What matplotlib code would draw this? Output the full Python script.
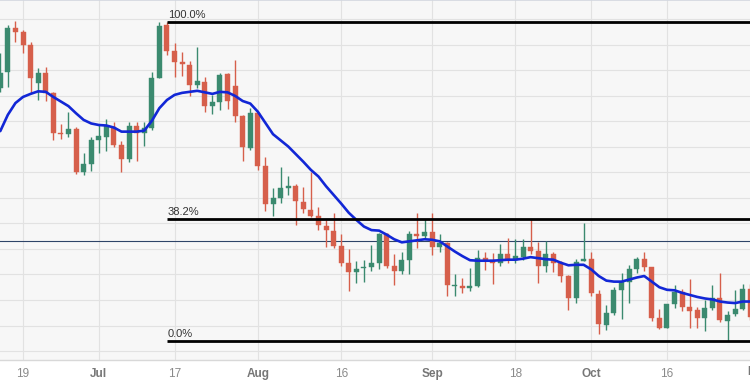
import matplotlib
matplotlib.use("Agg")
import matplotlib.pyplot as plt
import matplotlib.transforms as mtransforms
import numpy as np

plt.rcParams['font.family'] = ['Liberation Sans', 'DejaVu Sans']

# AUD/USD daily candles (Jun 14 2023 .. Nov 1 2023, weekdays)
opens = [0.6766, 0.6796, 0.6884, 0.6875, 0.6850, 0.6775, 0.6795, 0.6755, 0.6678, 0.6675,
         0.6686, 0.6601, 0.6616, 0.6664, 0.6670, 0.6690, 0.6654, 0.6626, 0.6691, 0.6677,
         0.6687, 0.6786, 0.6889, 0.6838, 0.6816, 0.6811, 0.6772, 0.6777, 0.6731, 0.6739,
         0.6792, 0.6769, 0.6710, 0.6648, 0.6716, 0.6613, 0.6538, 0.6549, 0.6569, 0.6573,
         0.6543, 0.6527, 0.6515, 0.6496, 0.6486, 0.6455, 0.6423, 0.6404, 0.6412, 0.6415,
         0.6423, 0.6480, 0.6417, 0.6406, 0.6428, 0.6480, 0.6476, 0.6484, 0.6453, 0.6461,
         0.6377, 0.6378, 0.6374, 0.6377, 0.6433, 0.6428, 0.6422, 0.6440, 0.6428, 0.6435,
         0.6453, 0.6447, 0.6417, 0.6440, 0.6423, 0.6397, 0.6353, 0.6427, 0.6431, 0.6362,
         0.6301, 0.6325, 0.6370, 0.6386, 0.6410, 0.6431, 0.6414, 0.6314, 0.6296, 0.6342,
         0.6365, 0.6337, 0.6330, 0.6314, 0.6335, 0.6353, 0.6308, 0.6323, 0.6333, 0.6372]
highs = [0.6835, 0.6889, 0.6897, 0.6879, 0.6856, 0.6805, 0.6807, 0.6758, 0.6695, 0.6718,
         0.6689, 0.6638, 0.6670, 0.6693, 0.6705, 0.6699, 0.6662, 0.6699, 0.6699, 0.6699,
         0.6797, 0.6894, 0.6895, 0.6853, 0.6837, 0.6818, 0.6846, 0.6787, 0.6752, 0.6795,
         0.6794, 0.6820, 0.6713, 0.6727, 0.6718, 0.6630, 0.6569, 0.6611, 0.6593, 0.6577,
         0.6571, 0.6600, 0.6533, 0.6507, 0.6521, 0.6480, 0.6449, 0.6427, 0.6428, 0.6458,
         0.6482, 0.6482, 0.6440, 0.6445, 0.6486, 0.6521, 0.6508, 0.6521, 0.6480, 0.6464,
         0.6401, 0.6394, 0.6412, 0.6448, 0.6444, 0.6443, 0.6460, 0.6472, 0.6470, 0.6470,
         0.6508, 0.6463, 0.6465, 0.6445, 0.6427, 0.6399, 0.6431, 0.6500, 0.6445, 0.6369,
         0.6340, 0.6376, 0.6402, 0.6419, 0.6435, 0.6445, 0.6415, 0.6333, 0.6343, 0.6379,
         0.6371, 0.6392, 0.6337, 0.6350, 0.6379, 0.6402, 0.6329, 0.6369, 0.6382, 0.6381]
lows = [0.6757, 0.6767, 0.6856, 0.6834, 0.6756, 0.6742, 0.6740, 0.6664, 0.6666, 0.6669,
        0.6597, 0.6595, 0.6603, 0.6638, 0.6642, 0.6650, 0.6601, 0.6620, 0.6622, 0.6652,
        0.6683, 0.6785, 0.6830, 0.6787, 0.6789, 0.6750, 0.6765, 0.6718, 0.6715, 0.6722,
        0.6724, 0.6699, 0.6622, 0.6644, 0.6604, 0.6525, 0.6515, 0.6540, 0.6556, 0.6497,
        0.6520, 0.6512, 0.6487, 0.6454, 0.6451, 0.6417, 0.6367, 0.6383, 0.6386, 0.6406,
        0.6411, 0.6412, 0.6379, 0.6401, 0.6401, 0.6451, 0.6469, 0.6438, 0.6445, 0.6357,
        0.6357, 0.6364, 0.6367, 0.6375, 0.6408, 0.6381, 0.6416, 0.6422, 0.6423, 0.6429,
        0.6441, 0.6384, 0.6404, 0.6404, 0.6386, 0.6331, 0.6345, 0.6426, 0.6358, 0.6283,
        0.6291, 0.6321, 0.6313, 0.6344, 0.6402, 0.6406, 0.6308, 0.6294, 0.6295, 0.6335,
        0.6329, 0.6296, 0.6296, 0.6290, 0.6330, 0.6306, 0.6270, 0.6319, 0.6330, 0.6311]
closes = [0.6794, 0.6884, 0.6875, 0.6850, 0.6785, 0.6795, 0.6756, 0.6678, 0.6675, 0.6686,
          0.6601, 0.6616, 0.6664, 0.6671, 0.6692, 0.6654, 0.6626, 0.6691, 0.6677, 0.6688,
          0.6785, 0.6888, 0.6838, 0.6816, 0.6812, 0.6771, 0.6779, 0.6731, 0.6738, 0.6791,
          0.6740, 0.6710, 0.6650, 0.6716, 0.6613, 0.6539, 0.6549, 0.6569, 0.6573, 0.6545,
          0.6528, 0.6515, 0.6497, 0.6487, 0.6455, 0.6423, 0.6404, 0.6410, 0.6414, 0.6423,
          0.6480, 0.6417, 0.6406, 0.6428, 0.6480, 0.6476, 0.6484, 0.6453, 0.6461, 0.6379,
          0.6379, 0.6374, 0.6377, 0.6433, 0.6428, 0.6422, 0.6440, 0.6428, 0.6436, 0.6453,
          0.6447, 0.6417, 0.6440, 0.6423, 0.6397, 0.6353, 0.6425, 0.6431, 0.6363, 0.6303,
          0.6324, 0.6370, 0.6386, 0.6410, 0.6431, 0.6414, 0.6314, 0.6296, 0.6342, 0.6365,
          0.6337, 0.6329, 0.6314, 0.6335, 0.6353, 0.6310, 0.6321, 0.6333, 0.6372, 0.6317]
# moving average as drawn on the chart
ma = [0.6681, 0.6713, 0.6736, 0.6748, 0.6754, 0.6759, 0.6758, 0.6748, 0.6739, 0.6730,
      0.6716, 0.6703, 0.6696, 0.6693, 0.6692, 0.6688, 0.6680, 0.6680, 0.6680, 0.6682,
      0.6701, 0.6726, 0.6742, 0.6752, 0.6756, 0.6758, 0.6760, 0.6757, 0.6754, 0.6758,
      0.6757, 0.6750, 0.6740, 0.6735, 0.6719, 0.6697, 0.6675, 0.6663, 0.6651, 0.6636,
      0.6621, 0.6605, 0.6592, 0.6573, 0.6556, 0.6539, 0.6521, 0.6507, 0.6494, 0.6487,
      0.6486, 0.6478, 0.6469, 0.6463, 0.6465, 0.6467, 0.6469, 0.6468, 0.6465, 0.6455,
      0.6445, 0.6436, 0.6428, 0.6427, 0.6427, 0.6427, 0.6428, 0.6429, 0.6429, 0.6431,
      0.6434, 0.6432, 0.6430, 0.6429, 0.6423, 0.6418, 0.6419, 0.6419, 0.6410, 0.6397,
      0.6388, 0.6386, 0.6386, 0.6390, 0.6394, 0.6397, 0.6386, 0.6375, 0.6370, 0.6369,
      0.6364, 0.6360, 0.6356, 0.6353, 0.6351, 0.6347, 0.6345, 0.6344, 0.6347, 0.6347]

tick_pos = [3, 13, 23, 34, 45, 57, 68, 78, 88]
tick_labels = ["19", "Jul", "17", "Aug", "16", "Sep", "18", "Oct", "16"]
month_labels = {"Jul", "Aug", "Sep", "Oct", "Nov"}
extra_label = (100, "Nov")

fib_start, fib_end = 22, 96          # swing high candle, swing low candle
fib_levels = [1.0, 0.382, 0.0]
fib_texts = ["100.0%", "38.2%", "0.0%"]
price_line = 0.6465

GREEN = "#3b8a6f"
RED = "#d65f4b"

fig = plt.figure(figsize=(7.5, 3.86), dpi=100, facecolor="white")
ax = fig.add_axes([0, 26 / 386, 1, 360 / 386])
ax.set_facecolor("#f7f7f7")

n = len(opens)
x = np.arange(n)
o = np.array(opens); h = np.array(highs); l = np.array(lows); c = np.array(closes)
up = c >= o
colors = np.where(up, GREEN, RED)

ax.vlines(x, l, h, colors=colors, linewidth=1.0, zorder=3)
bottoms = np.minimum(o, c)
heights = np.maximum(np.abs(c - o), 0.00008)
ax.bar(x, heights, bottom=bottoms, width=0.66, color=colors, edgecolor=colors,
       linewidth=0.3, zorder=4)

ax.plot(x, ma, color="#1227d6", linewidth=1.9, zorder=5, solid_capstyle="round")

ax.axhline(price_line, color="#2e4468", linewidth=0.8, zorder=2)

hi = highs[fib_start]
lo = lows[fib_end]
for lev, txt in zip(fib_levels, fib_texts):
    yv = lo + lev * (hi - lo)
    ax.plot([fib_start - 0.05, 120], [yv, yv], color="black", linewidth=2.0,
            zorder=6, solid_capstyle="butt")
    ax.text(fib_start + 0.1, yv + 0.0004, txt, fontsize=8, color="#333333",
            ha="left", va="bottom", zorder=7)

ax.set_xlim(-0.036, 98.96)
ax.set_ylim(0.62324, 0.69380)

ax.set_yticks(np.arange(0.625, 0.6901, 0.005))
ax.set_xticks(tick_pos)
ax.set_xticklabels(tick_labels)
ax.grid(True, color="#e2e2e2", linewidth=0.8, zorder=0)
ax.set_axisbelow(True)
ax.tick_params(axis="y", left=False, labelleft=False)
ax.tick_params(axis="x", length=0, pad=6, labelsize=8.5, labelcolor="#8a8a8a")
for lab in ax.get_xticklabels():
    if lab.get_text() in month_labels:
        lab.set_fontweight("bold")
        lab.set_color("#777777")

trans = mtransforms.blended_transform_factory(ax.transData, ax.transAxes)
ax.text(extra_label[0], -0.017, extra_label[1], transform=trans, ha="center", va="top",
        fontsize=8.5, fontweight="bold", color="#777777", clip_on=False)

for side in ["left", "right"]:
    ax.spines[side].set_visible(False)
ax.spines["top"].set_color("#d3d7e0")
ax.spines["top"].set_linewidth(1.2)
ax.spines["bottom"].set_color("#d8d8d8")
ax.spines["bottom"].set_linewidth(1.0)

fig.savefig("out.png", dpi=100, facecolor="white")
